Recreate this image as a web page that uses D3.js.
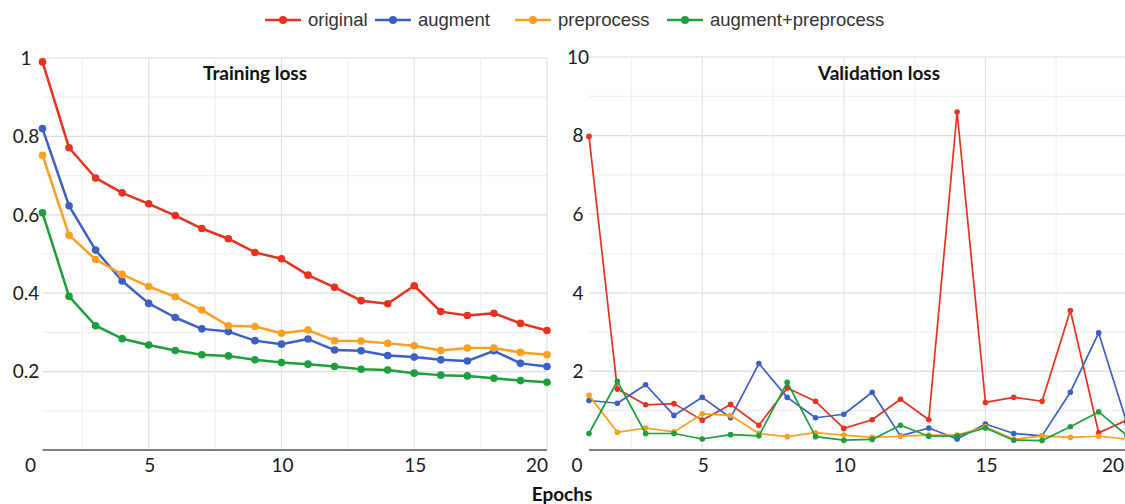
<!DOCTYPE html>
<html>
<head>
<meta charset="utf-8">
<script src="https://cdn.jsdelivr.net/npm/d3@7"></script>
<style>
  html, body { margin: 0; padding: 0; background: #fff; }
  svg { display: block; }
</style>
</head>
<body>
<svg id="chart" width="1125" height="504"></svg>
<script>
// ---- data ----
const epochs = d3.range(1, 21);
const seriesNames = ["original", "augment", "preprocess", "augment+preprocess"];
const seriesColors = ["#e6321e", "#3c5fc6", "#fb9f1f", "#1e9e3c"];

const trainOriginal = [0.99, 0.771, 0.694, 0.656, 0.628, 0.598, 0.565, 0.539, 0.504, 0.488, 0.446, 0.415, 0.381, 0.373, 0.419, 0.353, 0.343, 0.349, 0.323, 0.305];
const trainAugment = [0.82, 0.623, 0.51, 0.431, 0.374, 0.338, 0.309, 0.302, 0.279, 0.27, 0.283, 0.255, 0.253, 0.241, 0.237, 0.23, 0.227, 0.253, 0.221, 0.213];
const trainPreprocess = [0.752, 0.548, 0.486, 0.448, 0.417, 0.391, 0.357, 0.317, 0.315, 0.298, 0.306, 0.279, 0.278, 0.272, 0.266, 0.254, 0.26, 0.26, 0.249, 0.243];
const trainAugPre = [0.605, 0.392, 0.317, 0.284, 0.268, 0.254, 0.243, 0.24, 0.23, 0.223, 0.219, 0.213, 0.206, 0.204, 0.196, 0.191, 0.189, 0.183, 0.177, 0.173];

const valOriginal = [7.98, 1.55, 1.15, 1.18, 0.76, 1.16, 0.63, 1.58, 1.24, 0.55, 0.77, 1.29, 0.77, 8.6, 1.21, 1.34, 1.24, 3.55, 0.44, 0.76];
const valAugment = [1.26, 1.19, 1.66, 0.88, 1.34, 0.82, 2.2, 1.34, 0.82, 0.91, 1.47, 0.36, 0.56, 0.28, 0.66, 0.42, 0.36, 1.47, 2.98, 0.68];
const valPreprocess = [1.39, 0.45, 0.56, 0.46, 0.92, 0.88, 0.42, 0.34, 0.44, 0.38, 0.32, 0.35, 0.38, 0.38, 0.59, 0.27, 0.36, 0.32, 0.35, 0.28];
const valAugPre = [0.42, 1.75, 0.42, 0.42, 0.28, 0.39, 0.36, 1.72, 0.34, 0.25, 0.27, 0.63, 0.35, 0.36, 0.56, 0.25, 0.24, 0.59, 0.97, 0.37];

const trainYTicks = [0.2, 0.4, 0.6, 0.8, 1];
const valYTicks = [2, 4, 6, 8, 10];
const xTickLabels = [0, 5, 10, 15, 20];

const panelTitles = ["Training loss", "Validation loss"];
const xAxisTitle = "Epochs";

// ---- drawing ----
const svg = d3.select("#chart");
const tickFont = "Lato, 'Open Sans', sans-serif";

function drawPanel(cfg) {
  const x = d3.scaleLinear().domain([1, 20]).range(cfg.xRange);
  const y = d3.scaleLinear().domain([0, cfg.yMax]).range([450, cfg.yTop]);
  const g = svg.append("g");

  // horizontal gridlines (minor + major)
  const hStep = cfg.yMax / 10;
  const hVals = d3.range(1, 11).map(i => i * hStep);
  g.selectAll(".hg").data(hVals).join("line")
    .attr("x1", x(1)).attr("x2", x(20))
    .attr("y1", d => y(d)).attr("y2", d => y(d))
    .attr("stroke", (d, i) => (i % 2 === 1 ? "#dcdcdc" : "#efefef"))
    .attr("stroke-width", 1.2);

  // vertical gridlines every 2.5 epochs
  const vVals = [2.5, 5, 7.5, 10, 12.5, 15, 17.5, 20];
  g.selectAll(".vg").data(vVals).join("line")
    .attr("x1", d => x(d)).attr("x2", d => x(d))
    .attr("y1", y(cfg.yMax)).attr("y2", 450)
    .attr("stroke", (d, i) => (i % 2 === 1 ? "#e2e2e2" : "#f0f0f0"))
    .attr("stroke-width", 1.2);

  // baseline
  g.append("line")
    .attr("x1", x(1)).attr("x2", x(20))
    .attr("y1", 450).attr("y2", 450)
    .attr("stroke", "#7f7f7f").attr("stroke-width", 2);

  // y tick labels
  g.selectAll(".yl").data(cfg.yTicks).join("text")
    .attr("x", cfg.yLabelX).attr("y", d => y(d))
    .attr("dy", "0.36em")
    .attr("text-anchor", "middle")
    .attr("font-family", tickFont).attr("font-size", 19)
    .attr("fill", "#1a1a1a")
    .text(d => d);

  // x tick labels
  g.selectAll(".xl").data(xTickLabels).join("text")
    .attr("x", d => d === 0 ? x(1) - 12 : (d === 20 ? Math.min(x(20) + 1, 1124) : x(d) + 1))
    .attr("y", 465).attr("dy", "0.36em")
    .attr("text-anchor", d => d === 20 ? "end" : "middle")
    .attr("font-family", tickFont).attr("font-size", 19)
    .attr("fill", "#1a1a1a")
    .text(d => d);

  // title
  g.append("text")
    .attr("x", cfg.titleX).attr("y", 73).attr("dy", "0.36em")
    .attr("text-anchor", "middle")
    .attr("font-family", tickFont).attr("font-weight", "bold").attr("font-size", 19)
    .attr("fill", "#111")
    .text(cfg.title);

  // series
  const line = d3.line().x((d, i) => x(epochs[i])).y(d => y(d));
  const clip = "clip-" + cfg.id;
  svg.append("clipPath").attr("id", clip).append("rect")
    .attr("x", 0).attr("y", 0).attr("width", 1125).attr("height", 504);
  cfg.series.forEach((vals, si) => {
    const sg = g.append("g").attr("clip-path", `url(#${clip})`);
    sg.append("path").datum(vals)
      .attr("d", line)
      .attr("fill", "none")
      .attr("stroke", seriesColors[si])
      .attr("stroke-width", cfg.lineWidth)
      .attr("stroke-linejoin", "round");
    sg.selectAll("circle").data(vals).join("circle")
      .attr("cx", (d, i) => x(epochs[i]))
      .attr("cy", d => y(d))
      .attr("r", cfg.r)
      .attr("fill", seriesColors[si]);
  });
}

drawPanel({
  id: "train", xRange: [42.5, 547], yMax: 1, yTop: 58, yTicks: trainYTicks,
  yLabelX: 26, titleX: 255, title: panelTitles[0],
  series: [trainOriginal, trainAugment, trainPreprocess, trainAugPre],
  lineWidth: 2.5, r: 3.8
});
drawPanel({
  id: "val", xRange: [589, 1127], yMax: 10, yTop: 57, yTicks: valYTicks,
  yLabelX: 578, titleX: 879, title: panelTitles[1],
  series: [valOriginal, valAugment, valPreprocess, valAugPre],
  lineWidth: 1.7, r: 2.8
});

// x axis title
svg.append("text")
  .attr("x", 562).attr("y", 494).attr("dy", "0.36em")
  .attr("text-anchor", "middle")
  .attr("font-family", tickFont).attr("font-weight", "bold").attr("font-size", 19)
  .attr("fill", "#111")
  .text(xAxisTitle);

// legend
const legendX = [265, 375, 515, 667];
const leg = svg.append("g").attr("transform", "translate(0,20)");
seriesNames.forEach((name, i) => {
  const lg = leg.append("g").attr("transform", `translate(${legendX[i]},0)`);
  lg.append("line").attr("x1", 0).attr("x2", 36).attr("y1", 0).attr("y2", 0)
    .attr("stroke", seriesColors[i]).attr("stroke-width", 2.5);
  lg.append("circle").attr("cx", 18).attr("cy", 0).attr("r", 4).attr("fill", seriesColors[i]);
  lg.append("text").attr("x", 43).attr("y", 0).attr("dy", "0.35em")
    .attr("font-family", "'Liberation Sans', Arial, sans-serif").attr("font-size", 18.5)
    .attr("fill", "#333")
    .text(name);
});
</script>
</body>
</html>
